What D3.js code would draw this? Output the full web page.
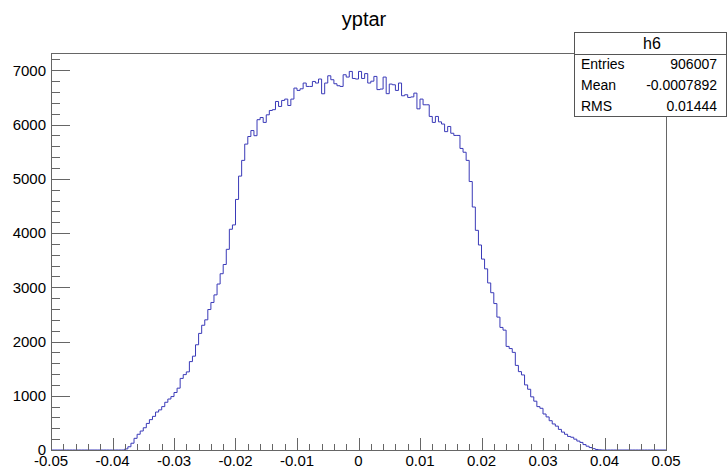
<!DOCTYPE html>
<html>
<head>
<meta charset="utf-8">
<script src="https://cdn.jsdelivr.net/npm/d3@7"></script>
<style>
  html, body { margin: 0; padding: 0; background: #fff; }
  svg { display: block; font-family: "Liberation Sans", Arial, Helvetica, sans-serif; }
</style>
</head>
<body>
<svg id="chart" width="727" height="474"></svg>
<script>
// ---- data ----
const title = "yptar";
const histName = "h6";
const xMin = -0.05, xMax = 0.05, nBins = 200;
const firstBin = 24;
const counts = [
  20, 60, 125, 215, 290, 350, 410, 490, 560, 620,
  700, 740, 800, 880, 940, 985, 1060, 1140, 1320, 1390,
  1440, 1630, 1730, 1940, 2150, 2300, 2400, 2590, 2720, 2860,
  3060, 3250, 3420, 3700, 4070, 4150, 4620, 5050, 5340, 5640,
  5780, 5890, 5795, 6090, 6130, 6040, 6180, 6260, 6275, 6426,
  6334, 6445, 6470, 6352, 6470, 6673, 6630, 6660, 6766, 6703,
  6703, 6795, 6766, 6840, 6568, 6766, 6900, 6827, 6753, 6716,
  6703, 6919, 6876, 6980, 6850, 6840, 6980, 6850, 6940, 6766,
  6800, 6888, 6645, 6655, 6876, 6570, 6747, 6734, 6630, 6766,
  6531, 6550, 6500, 6510, 6580, 6290, 6470, 6365, 6365, 6150,
  6040, 6150, 6050, 6010, 5870, 5965, 5840, 5800, 5800, 5560,
  5490, 5340, 4950, 4480, 4050, 3780, 3520, 3340, 3080, 2900,
  2700, 2450, 2260, 2210, 1910, 1870, 1800, 1560, 1445, 1384,
  1200, 1120, 980, 900, 800, 769, 664, 610, 540, 480,
  440, 380, 330, 290, 250, 235, 200, 165, 140, 100,
  70, 45, 25, 10, 3
];
const xTickLabels = ["-0.05", "-0.04", "-0.03", "-0.02", "-0.01", "0", "0.01", "0.02", "0.03", "0.04", "0.05"];
const yTickValues = [0, 1000, 2000, 3000, 4000, 5000, 6000, 7000];
const statLabels = ["Entries", "Mean", "RMS"];
const statValues = ["906007", "-0.0007892", "0.01444"];

// ---- layout ----
const svg = d3.select("#chart");
const W = 727, H = 474;
const frame = { left: 51, right: 666, top: 52.5, bottom: 450 };
const lineColor = "#3a3ab8";
const axisColor = "#666";

svg.append("rect").attr("width", W).attr("height", H).attr("fill", "#fff");

// full bin array
const binValues = d3.range(nBins).map(i => {
  const k = i - firstBin;
  return (k >= 0 && k < counts.length) ? counts[k] : 0;
});
const binWidth = (xMax - xMin) / nBins;
const yMax = 1.05 * d3.max(binValues);

const x = d3.scaleLinear().domain([xMin, xMax]).range([frame.left, frame.right]);
const y = d3.scaleLinear().domain([0, yMax]).range([frame.bottom, frame.top]);

// ---- histogram outline ----
const pts = [];
pts.push([xMin, 0]);
binValues.forEach((v, i) => {
  const lo = xMin + i * binWidth, hi = xMin + (i + 1) * binWidth;
  pts.push([lo, v]);
  pts.push([hi, v]);
});
pts.push([xMax, 0]);

const line = d3.line().x(d => x(d[0])).y(d => y(d[1]));
svg.append("path")
  .attr("d", line(pts))
  .attr("fill", "none")
  .attr("stroke", lineColor)
  .attr("stroke-width", 1);

// ---- frame ----
svg.append("rect")
  .attr("x", frame.left + 0.5).attr("y", Math.round(frame.top) + 0.5)
  .attr("width", frame.right - frame.left)
  .attr("height", frame.bottom - Math.round(frame.top))
  .attr("fill", "none").attr("stroke", axisColor).attr("stroke-width", 1)
  .attr("shape-rendering", "crispEdges");

// ---- x axis ticks ----
const xMajLen = 12, xMinLen = 6;
const xMinor = d3.range(0, 51).map(k => xMin + k * 0.002);
const gx = svg.append("g").attr("shape-rendering", "crispEdges");
xMinor.forEach((v, k) => {
  const px = Math.round(x(v)) + 0.5;
  const len = (k % 5 === 0) ? xMajLen : xMinLen;
  gx.append("line").attr("x1", px).attr("x2", px)
    .attr("y1", frame.bottom).attr("y2", frame.bottom - len)
    .attr("stroke", axisColor);
});
xTickLabels.forEach((lab, k) => {
  const v = xMin + k * 0.01;
  svg.append("text")
    .attr("x", x(v)).attr("y", 466)
    .attr("text-anchor", "middle")
    .attr("font-size", 15)
    .attr("fill", "#000")
    .text(lab);
});

// ---- y axis ticks ----
const yMajLen = 18.5, yMinLen = 9.2;
const gy = svg.append("g").attr("shape-rendering", "crispEdges");
d3.range(0, yMax, 200).forEach(v => {
  const py = Math.round(y(v)) + 0.5;
  const len = (v % 1000 === 0) ? yMajLen : yMinLen;
  gy.append("line").attr("x1", frame.left).attr("x2", frame.left + len)
    .attr("y1", py).attr("y2", py)
    .attr("stroke", axisColor);
});
yTickValues.forEach(v => {
  svg.append("text")
    .attr("x", 46).attr("y", y(v))
    .attr("dy", "0.36em")
    .attr("text-anchor", "end")
    .attr("font-size", 15)
    .attr("fill", "#000")
    .text(String(v));
});

// ---- title ----
svg.append("text")
  .attr("x", 364).attr("y", 26)
  .attr("text-anchor", "middle")
  .attr("font-size", 20)
  .attr("fill", "#000")
  .text(title);

// ---- stats box ----
const box = { x: 574, y: 32, w: 152, h: 84 };
const headerH = 21.5;
const gs = svg.append("g");
gs.append("rect")
  .attr("x", box.x + 0.5).attr("y", box.y + 0.5)
  .attr("width", box.w).attr("height", box.h)
  .attr("fill", "#fff").attr("stroke", "#555").attr("shape-rendering", "crispEdges");
gs.append("line")
  .attr("x1", box.x).attr("x2", box.x + box.w)
  .attr("y1", box.y + headerH + 0.5).attr("y2", box.y + headerH + 0.5)
  .attr("stroke", "#555").attr("shape-rendering", "crispEdges");
gs.append("text")
  .attr("x", box.x + box.w / 2 + 2).attr("y", box.y + 17)
  .attr("text-anchor", "middle").attr("font-size", 16).attr("fill", "#000")
  .text(histName);
const rowH = (box.h - headerH) / statLabels.length;
statLabels.forEach((lab, i) => {
  const cy = box.y + headerH + rowH * (i + 0.5);
  gs.append("text")
    .attr("x", box.x + 7).attr("y", cy).attr("dy", "0.36em")
    .attr("font-size", 14).attr("fill", "#000").text(lab);
  gs.append("text")
    .attr("x", box.x + box.w - 9).attr("y", cy).attr("dy", "0.36em")
    .attr("text-anchor", "end")
    .attr("font-size", 14).attr("fill", "#000").text(statValues[i]);
});
</script>
</body>
</html>
